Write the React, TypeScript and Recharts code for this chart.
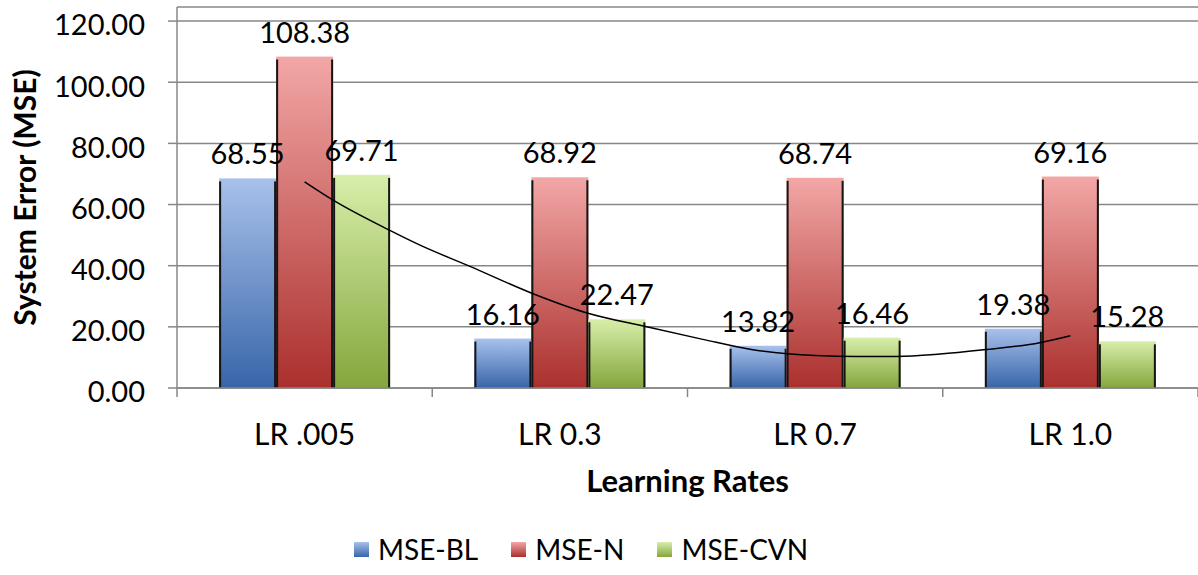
import React from 'react'
import { ComposedChart, Bar, Line, XAxis, YAxis, CartesianGrid, LabelList, Legend } from 'recharts'

const categories = ['LR .005', 'LR 0.3', 'LR 0.7', 'LR 1.0']
const mseBL = [68.55, 16.16, 13.82, 19.38]
const mseN = [108.38, 68.92, 68.74, 69.16]
const mseCVN = [69.71, 22.47, 16.46, 15.28]
const yTicks = [0, 20, 40, 60, 80, 100, 120]
const xTicks = [0, 0.5, 1, 1.5, 2, 2.5, 3, 3.5, 4]

// trendline (position in category units, value)
const trendPos = [0.5, 0.61, 0.83, 0.95, 1.15, 1.39, 1.6, 1.84, 2.06, 2.25, 2.5, 2.66, 2.82, 2.99, 3.15, 3.38, 3.5]
const trendVal = [67.4, 61.5, 51.7, 46.8, 39.7, 31.0, 24.7, 20.0, 15.9, 12.6, 10.6, 10.3, 10.3, 11.1, 12.4, 14.8, 17.1]

const data = categories.map((c, i) => ({ cat: c, bl: mseBL[i], n: mseN[i], cvn: mseCVN[i] }))
const trend = trendPos.map((t, i) => ({ t, v: trendVal[i] }))

const series = [
  { key: 'bl', name: 'MSE-BL', id: 'gBL', top: '#a8c1ec', bottom: '#3865a8' },
  { key: 'n', name: 'MSE-N', id: 'gN', top: '#f2a7a6', bottom: '#aa302d' },
  { key: 'cvn', name: 'MSE-CVN', id: 'gCVN', top: '#d8eeaa', bottom: '#84a63c' },
]

const GRID = '#878787'

const BarShape = (p: any) => {
  const { x, y, width, height, fill } = p
  if (!height || height <= 0) return null
  return (
    <g>
      <rect x={x} y={y} width={width} height={height} fill={fill} />
      <line x1={x + 1} x2={x + 1} y1={y + 3} y2={y + height} stroke="#151515" strokeWidth={2} />
      <line x1={x + width - 1} x2={x + width - 1} y1={y + 3} y2={y + height} stroke="#151515" strokeWidth={2} />
    </g>
  )
}

const XTick = (p: any) => {
  const { x, y, payload } = p
  const v = payload.value
  if (Number.isInteger(v)) {
    return <line x1={x} x2={x} y1={y} y2={y + 9} stroke={GRID} strokeWidth={1.5} />
  }
  return (
    <text x={x} y={y + 57} textAnchor="middle" fontSize={30} fill="#000">
      {categories[Math.floor(v)]}
    </text>
  )
}

const LegendContent = () => (
  <div style={{ display: 'flex', alignItems: 'center', fontSize: 28, color: '#000', lineHeight: '30px' }}>
    {series.map((s) => (
      <div key={s.key} style={{ display: 'flex', alignItems: 'center', marginRight: 33 }}>
        <span style={{ width: 15, height: 15, display: 'inline-block', background: `linear-gradient(${s.top}, ${s.bottom})` }} />
        <span style={{ marginLeft: 9 }}>{s.name}</span>
      </div>
    ))}
  </div>
)

export default function App() {
  return (
    <div style={{ position: 'absolute', left: 0, top: 0, width: 1198, height: 575, background: '#fff', fontFamily: 'Lato' }}>
      <ComposedChart width={1198} height={575} data={data} margin={{ top: 7, right: 0, bottom: 77, left: 0 }} barCategoryGap="16.5%" barGap={0}>
        <defs>
          {series.map((s) => (
            <linearGradient key={s.id} id={s.id} x1="0" y1="0" x2="0" y2="1">
              <stop offset="0%" stopColor={s.top} />
              <stop offset="100%" stopColor={s.bottom} />
            </linearGradient>
          ))}
        </defs>
        <CartesianGrid vertical={false} stroke={GRID} strokeWidth={1.5} />
        <XAxis dataKey="cat" hide height={0} />
        <XAxis
          xAxisId="t"
          type="number"
          dataKey="t"
          domain={[0, 4]}
          ticks={xTicks}
          interval={0}
          tickSize={0}
          tickMargin={0}
          tickLine={false}
          tick={<XTick />}
          axisLine={{ stroke: GRID, strokeWidth: 1.5 }}
          height={110}
          label={{ value: 'Learning Rates', position: 'insideBottom', offset: 6, fontSize: 31, fontWeight: 700, fill: '#000' }}
        />
        <YAxis
          width={177}
          domain={[0, 124.6]}
          ticks={yTicks}
          interval={0}
          tickFormatter={(v: number) => v.toFixed(2)}
          tick={{ fill: '#000', fontSize: 29, dy: 4 }}
          tickSize={9}
          tickMargin={23}
          tickLine={{ stroke: GRID, strokeWidth: 1.5 }}
          axisLine={{ stroke: GRID, strokeWidth: 1.5 }}
          label={{ value: 'System Error (MSE)', angle: -90, position: 'center', dx: -63, fontSize: 30, fontWeight: 700, fill: '#000' }}
        />
        {series.map((s) => (
          <Bar key={s.key} dataKey={s.key} name={s.name} fill={`url(#${s.id})`} shape={BarShape} isAnimationActive={false}>
            <LabelList dataKey={s.key} position="top" offset={14} fontSize={29} fill="#000" formatter={(v: any) => Number(v).toFixed(2)} />
          </Bar>
        ))}
        <Line xAxisId="t" data={trend} dataKey="v" type="monotone" stroke="#000" strokeWidth={1.5} dot={false} isAnimationActive={false} legendType="none" />
        <Legend
          layout="horizontal"
          verticalAlign="middle"
          align="center"
          content={<LegendContent />}
          wrapperStyle={{ position: 'absolute', left: 354, top: 534, width: 'auto', height: 'auto' }}
        />
      </ComposedChart>
    </div>
  )
}
